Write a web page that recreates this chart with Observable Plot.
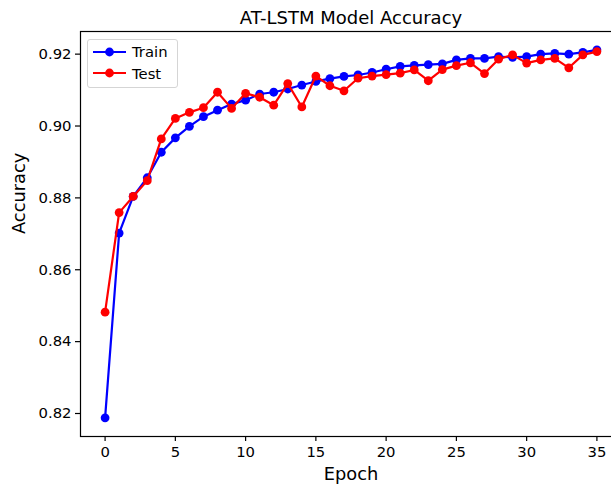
<!DOCTYPE html>
<html>
<head>
<meta charset="utf-8">
<script src="https://cdn.jsdelivr.net/npm/d3@7"></script>
<script src="https://cdn.jsdelivr.net/npm/@observablehq/plot@0.6"></script>
<style>
  html, body { margin: 0; padding: 0; background: #fff; }
  body { font-family: "DejaVu Sans", sans-serif; width: 611px; height: 489px; overflow: hidden; position: relative; }
  #chart { position: absolute; left: 0; top: 0; }
  #legend { position: absolute; left: 87px; top: 39px; width: 91px; height: 49px;
    border: 1px solid #d5d5d5; border-radius: 3px; background: rgba(255,255,255,0.85); box-sizing: border-box; }
  .row { height: 21.6px; display: flex; align-items: center; font-size: 14.8px; color: #000; }
  .row svg { margin-left: 4px; margin-right: 4px; }
</style>
</head>
<body>
<div id="chart"></div>
<div id="legend"></div>
<script>
const epochs = d3.range(0, 36);
const trainAcc = [0.8188, 0.8702, 0.8804, 0.8856, 0.8927, 0.8967, 0.8999, 0.9026, 0.9044, 0.9061,
  0.9072, 0.9089, 0.9094, 0.9103, 0.9114, 0.9124, 0.9132, 0.9138, 0.9142, 0.9149,
  0.9158, 0.9166, 0.9169, 0.9171, 0.9173, 0.9184, 0.9188, 0.9188, 0.9193, 0.9191,
  0.9193, 0.9200, 0.9202, 0.9200, 0.9205, 0.9212];
const testAcc = [0.8482, 0.8759, 0.8804, 0.8848, 0.8964, 0.9021, 0.9038, 0.9051, 0.9094, 0.9049,
  0.9091, 0.9080, 0.9058, 0.9118, 0.9053, 0.9139, 0.9112, 0.9098, 0.9133, 0.9139,
  0.9143, 0.9147, 0.9156, 0.9126, 0.9157, 0.9168, 0.9176, 0.9146, 0.9186, 0.9198,
  0.9175, 0.9184, 0.9188, 0.9162, 0.9198, 0.9207];
const xTicks = [0, 5, 10, 15, 20, 25, 30, 35];
const yTicks = [0.82, 0.84, 0.86, 0.88, 0.90, 0.92];
const seriesNames = ["Train", "Test"];
const seriesColors = ["#0000ff", "#ff0000"];
const titleText = "AT-LSTM Model Accuracy";
const xLabel = "Epoch";
const yLabel = "Accuracy";

const train = epochs.map((e, i) => ({epoch: e, acc: trainAcc[i]}));
const test = epochs.map((e, i) => ({epoch: e, acc: testAcc[i]}));

const font = "DejaVu Sans, sans-serif";
const chart = Plot.plot({
  width: 611,
  height: 489,
  marginLeft: 80,
  marginRight: -10,
  marginTop: 31,
  marginBottom: 53,
  style: {fontFamily: font, background: "#fff", color: "#000"},
  x: {domain: [-1.75, 36.75]},
  y: {domain: [0.8136, 0.9263]},
  marks: [
    Plot.axisX({ticks: xTicks, tickSize: 5, tickPadding: 5, fontSize: 14.8, label: null, strokeWidth: 1.2}),
    Plot.axisY({ticks: yTicks, tickFormat: d3.format(".2f"), tickSize: 5, tickPadding: 4, fontSize: 14.8, label: null, strokeWidth: 1.2}),
    Plot.line(train, {x: "epoch", y: "acc", stroke: seriesColors[0], strokeWidth: 2.2}),
    Plot.dot(train, {x: "epoch", y: "acc", fill: seriesColors[0], r: 4.4}),
    Plot.line(test, {x: "epoch", y: "acc", stroke: seriesColors[1], strokeWidth: 2.2}),
    Plot.dot(test, {x: "epoch", y: "acc", fill: seriesColors[1], r: 4.4}),
    Plot.frame({stroke: "#000", strokeWidth: 1.2}),
    Plot.text([titleText], {frameAnchor: "top", dy: -20, fontSize: 18, fill: "#000"}),
    Plot.text([xLabel], {frameAnchor: "bottom", dy: 43, fontSize: 17.8, fill: "#000"}),
    Plot.text([yLabel], {frameAnchor: "left", dx: -61, rotate: -90, fontSize: 17.8, fill: "#000"})
  ]
});
document.getElementById("chart").appendChild(chart);

const legend = document.getElementById("legend");
legend.style.paddingTop = "1px";
seriesNames.forEach((name, i) => {
  const row = document.createElement("div");
  row.className = "row";
  row.innerHTML = `<svg width="36" height="12"><line x1="1" y1="6" x2="34" y2="6" stroke="${seriesColors[i]}" stroke-width="2.2"/><circle cx="17.5" cy="6" r="4.4" fill="${seriesColors[i]}"/></svg><span>${name}</span>`;
  legend.appendChild(row);
});
</script>
</body>
</html>
